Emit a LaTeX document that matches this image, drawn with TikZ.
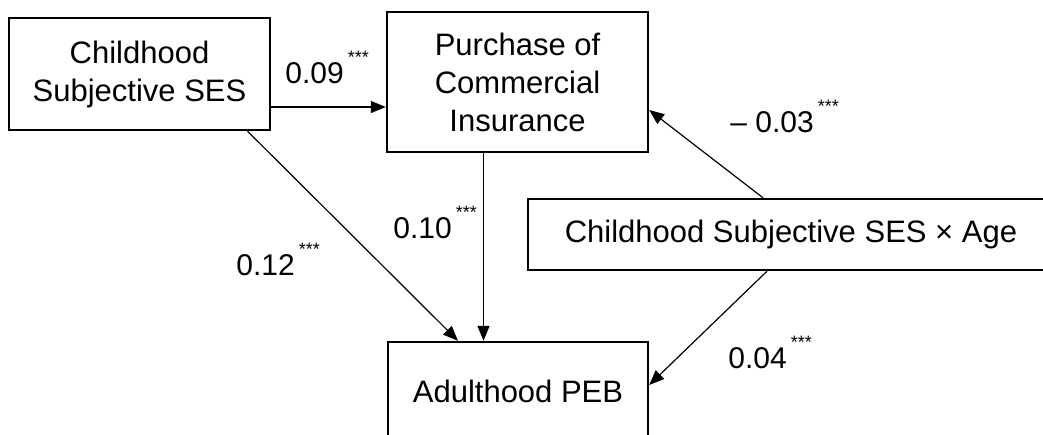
\documentclass[tikz,border=0pt]{standalone}
\usepackage{fontspec}
\setmainfont{Liberation Sans}
\usetikzlibrary{arrows.meta}

\tikzset{
  box/.style={draw,line width=1.2pt,align=center,inner sep=0pt,
    font=\fontsize{15.5}{19}\selectfont},
  path/.style={line width=0.6pt,-{Triangle[length=7.5pt,width=6pt]}},
  coef/.style={anchor=base west,inner sep=0pt,font=\fontsize{15}{17}\selectfont}
}
\newcommand{\sig}{\kern2pt\raisebox{10pt}{\fontsize{9}{9}\selectfont ***}}

\begin{document}
\begin{tikzpicture}[x=0.5pt,y=-0.5pt]
  \useasboundingbox (0,0) rectangle (1043,434);
  \clip (0,0) rectangle (1043,434);

  % variables
  \node[box,minimum width=130.5pt,minimum height=56pt] (ses) at (139.5,74)
    {Childhood\\Subjective SES};
  \node[box,minimum width=130.5pt,minimum height=70pt] (insur) at (517.5,82)
    {Purchase of\\Commercial\\Insurance};
  \node[box,minimum width=263pt,minimum height=35.5pt] (inter) at (791,234.5)
    {Childhood Subjective SES × Age};
  \node[box,minimum width=130pt,minimum height=49pt] (peb) at (518,391)
    {Adulthood PEB};

  % paths
  \draw[path] ([yshift=-16.5pt]ses.east) -- ([yshift=-16.5pt]ses.east -| insur.west);
  \draw[path] ([xshift=54pt]ses.south) -- ([xshift=-30pt]peb.north);
  \draw[path] ([xshift=-17pt]insur.south) -- ([xshift=-17pt]insur.south |- peb.north);
  \draw[path] ([xshift=-14pt]inter.north) -- ([yshift=-14pt]insur.east);
  \draw[path] ([xshift=-12pt]inter.south) -- ([yshift=3pt]peb.east);

  % coefficients
  \node[coef] (c1) at (285,83) {0.09\sig};
  \node[coef] (c2) at (730,132) {– 0.03\sig};
  \node[coef] (c3) at (393,238) {0.10\sig};
  \node[coef] (c4) at (236,275) {0.12\sig};
  \node[coef] (c5) at (728,368) {0.04\sig};
\end{tikzpicture}
\end{document}
